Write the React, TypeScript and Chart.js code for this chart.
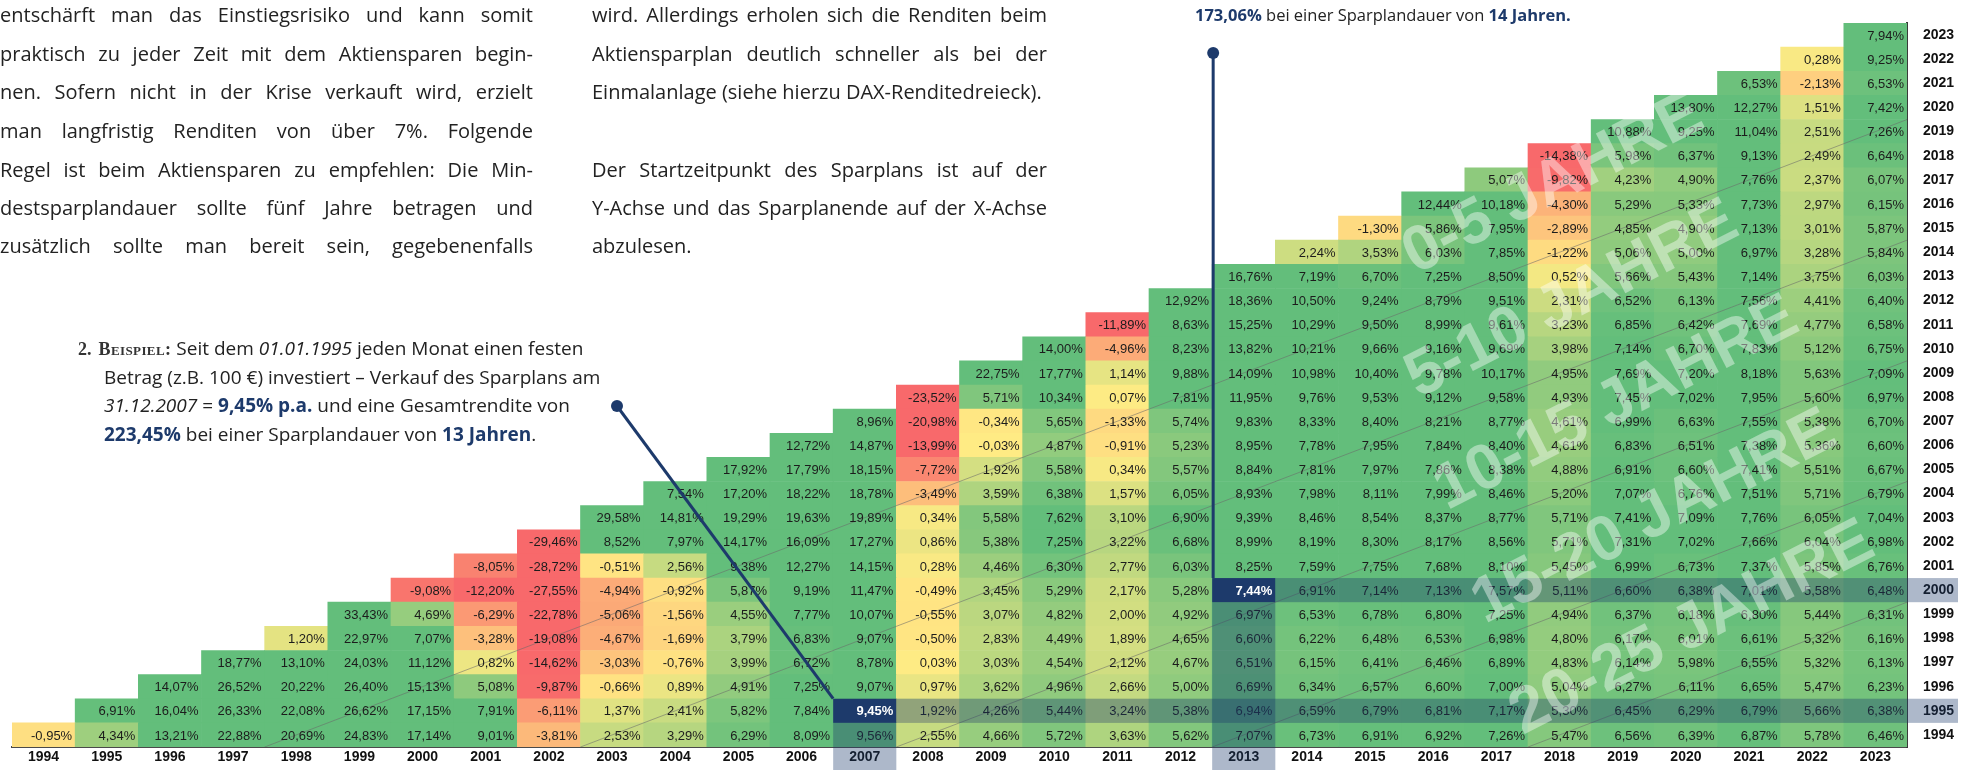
import React, { useEffect, useRef } from "react";
import { Chart, registerables } from "chart.js";

Chart.register(...registerables);

// ---------- DATA ----------
const START_YEARS = [1994, 1995, 1996, 1997, 1998, 1999, 2000, 2001, 2002, 2003, 2004, 2005, 2006, 2007, 2008, 2009, 2010, 2011, 2012, 2013, 2014, 2015, 2016, 2017, 2018, 2019, 2020, 2021, 2022, 2023];
const END_YEARS = [1994, 1995, 1996, 1997, 1998, 1999, 2000, 2001, 2002, 2003, 2004, 2005, 2006, 2007, 2008, 2009, 2010, 2011, 2012, 2013, 2014, 2015, 2016, 2017, 2018, 2019, 2020, 2021, 2022, 2023];
const X_TICK_LABELS = END_YEARS.map(String);
const Y_TICK_LABELS = START_YEARS.map(String);

// yearly returns (% p.a.) per end year, listed by start year from 1994 upwards
const end1994 = [-0.95];
const end1995 = [4.34, 6.91];
const end1996 = [13.21, 16.04, 14.07];
const end1997 = [22.88, 26.33, 26.52, 18.77];
const end1998 = [20.69, 22.08, 20.22, 13.10, 1.20];
const end1999 = [24.83, 26.62, 26.40, 24.03, 22.97, 33.43];
const end2000 = [17.14, 17.15, 15.13, 11.12, 7.07, 4.69, -9.08];
const end2001 = [9.01, 7.91, 5.08, 0.82, -3.28, -6.29, -12.20, -8.05];
const end2002 = [-3.81, -6.11, -9.87, -14.62, -19.08, -22.78, -27.55, -28.72, -29.46];
const end2003 = [2.53, 1.37, -0.66, -3.03, -4.67, -5.06, -4.94, -0.51, 8.52, 29.58];
const end2004 = [3.29, 2.41, 0.89, -0.76, -1.69, -1.56, -0.92, 2.56, 7.97, 14.81, 7.54];
const end2005 = [6.29, 5.82, 4.91, 3.99, 3.79, 4.55, 5.87, 9.38, 14.17, 19.29, 17.20, 17.92];
const end2006 = [8.09, 7.84, 7.25, 6.72, 6.83, 7.77, 9.19, 12.27, 16.09, 19.63, 18.22, 17.79, 12.72];
const end2007 = [9.56, 9.45, 9.07, 8.78, 9.07, 10.07, 11.47, 14.15, 17.27, 19.89, 18.78, 18.15, 14.87, 8.96];
const end2008 = [2.55, 1.92, 0.97, 0.03, -0.50, -0.55, -0.49, 0.28, 0.86, 0.34, -3.49, -7.72, -13.99, -20.98, -23.52];
const end2009 = [4.66, 4.26, 3.62, 3.03, 2.83, 3.07, 3.45, 4.46, 5.38, 5.58, 3.59, 1.92, -0.03, -0.34, 5.71, 22.75];
const end2010 = [5.72, 5.44, 4.96, 4.54, 4.49, 4.82, 5.29, 6.30, 7.25, 7.62, 6.38, 5.58, 4.87, 5.65, 10.34, 17.77, 14.00];
const end2011 = [3.63, 3.24, 2.66, 2.12, 1.89, 2.00, 2.17, 2.77, 3.22, 3.10, 1.57, 0.34, -0.91, -1.33, 0.07, 1.14, -4.96, -11.89];
const end2012 = [5.62, 5.38, 5.00, 4.67, 4.65, 4.92, 5.28, 6.03, 6.68, 6.90, 6.05, 5.57, 5.23, 5.74, 7.81, 9.88, 8.23, 8.63, 12.92];
const end2013 = [7.07, 6.94, 6.69, 6.51, 6.60, 6.97, 7.44, 8.25, 8.99, 9.39, 8.93, 8.84, 8.95, 9.83, 11.95, 14.09, 13.82, 15.25, 18.36, 16.76];
const end2014 = [6.73, 6.59, 6.34, 6.15, 6.22, 6.53, 6.91, 7.59, 8.19, 8.46, 7.98, 7.81, 7.78, 8.33, 9.76, 10.98, 10.21, 10.29, 10.50, 7.19, 2.24];
const end2015 = [6.91, 6.79, 6.57, 6.41, 6.48, 6.78, 7.14, 7.75, 8.30, 8.54, 8.11, 7.97, 7.95, 8.40, 9.53, 10.40, 9.66, 9.50, 9.24, 6.70, 3.53, -1.30];
const end2016 = [6.92, 6.81, 6.60, 6.46, 6.53, 6.80, 7.13, 7.68, 8.17, 8.37, 7.99, 7.86, 7.84, 8.21, 9.12, 9.78, 9.16, 8.99, 8.79, 7.25, 6.03, 5.86, 12.44];
const end2017 = [7.26, 7.17, 7.00, 6.89, 6.98, 7.25, 7.57, 8.10, 8.56, 8.77, 8.46, 8.38, 8.40, 8.77, 9.58, 10.17, 9.69, 9.61, 9.51, 8.50, 7.85, 7.95, 10.18, 5.07];
const end2018 = [5.47, 5.30, 5.04, 4.83, 4.80, 4.94, 5.11, 5.45, 5.71, 5.71, 5.20, 4.88, 4.61, 4.61, 4.93, 4.95, 3.98, 3.23, 2.31, 0.52, -1.22, -2.89, -4.30, -9.82, -14.38];
const end2019 = [6.56, 6.45, 6.27, 6.14, 6.17, 6.37, 6.60, 6.99, 7.31, 7.41, 7.07, 6.91, 6.83, 6.99, 7.45, 7.69, 7.14, 6.85, 6.52, 5.66, 5.06, 4.85, 5.29, 4.23, 5.98, 10.88];
const end2020 = [6.39, 6.29, 6.11, 5.98, 6.01, 6.18, 6.38, 6.73, 7.02, 7.09, 6.76, 6.60, 6.51, 6.63, 7.02, 7.20, 6.70, 6.42, 6.13, 5.43, 5.00, 4.90, 5.33, 4.90, 6.37, 9.25, 13.80];
const end2021 = [6.87, 6.79, 6.65, 6.55, 6.61, 6.80, 7.01, 7.37, 7.66, 7.76, 7.51, 7.41, 7.38, 7.55, 7.95, 8.18, 7.83, 7.69, 7.56, 7.14, 6.97, 7.13, 7.73, 7.76, 9.13, 11.04, 12.27, 6.53];
const end2022 = [5.78, 5.66, 5.47, 5.32, 5.32, 5.44, 5.58, 5.85, 6.04, 6.05, 5.71, 5.51, 5.36, 5.38, 5.60, 5.63, 5.12, 4.77, 4.41, 3.75, 3.28, 3.01, 2.97, 2.37, 2.49, 2.51, 1.51, -2.13, 0.28];
const end2023 = [6.46, 6.38, 6.23, 6.13, 6.16, 6.31, 6.48, 6.76, 6.98, 7.04, 6.79, 6.67, 6.60, 6.70, 6.97, 7.09, 6.75, 6.58, 6.40, 6.03, 5.84, 5.87, 6.15, 6.07, 6.64, 7.26, 7.42, 6.53, 9.25, 7.94];

const RETURNS_BY_END = [end1994, end1995, end1996, end1997, end1998, end1999, end2000, end2001, end2002, end2003, end2004, end2005, end2006, end2007, end2008, end2009, end2010, end2011, end2012, end2013, end2014, end2015, end2016, end2017, end2018, end2019, end2020, end2021, end2022, end2023];

// highlighted examples (start year, end year)
const EXAMPLE_STARTS = [1995, 2000];
const EXAMPLE_ENDS = [2007, 2013];

// duration boundaries (years) drawn as thin diagonals and watermark labels
const DIAGONAL_DURATIONS = [5, 10, 15, 20, 25];
const WATERMARK_TEXTS = ["0-5 JAHRE", "5-10 JAHRE", "10-15 JAHRE", "15-20 JAHRE", "20-25 JAHRE"];

// ---------- LAYOUT / STYLE ----------
const W = 1971;
const H = 770;
const NAVY = "#1d3a6b";
const FONT_CELL = '13px "Liberation Sans", Arial, sans-serif';
const WATERMARK_POS = [
  { c: 24.4, r: 23.3 },
  { c: 24.7, r: 18.5 },
  { c: 25.4, r: 14.2 },
  { c: 26.0, r: 9.5 },
  { c: 26.6, r: 4.9 },
];
const WATERMARK_ANGLE = -27;
const DOT_A = { x: 617, y: 406 };
const DOT_B_Y = 53;

function valueAt(ci: number, ri: number): number | null {
  const col = RETURNS_BY_END[ci];
  if (!col || ri >= col.length) return null;
  return col[ri];
}

function mix(a: number[], b: number[], t: number) {
  const c = a.map((v, i) => Math.round(v + (b[i] - v) * t));
  return `rgb(${c[0]},${c[1]},${c[2]})`;
}

function cellColor(v: number) {
  const red = [248, 105, 107];
  const yellow = [255, 235, 132];
  const green = [99, 190, 123];
  if (v <= 0) {
    const t = Math.max(0, Math.min(1, (v + 10) / 10));
    return mix(red, yellow, t);
  }
  const t = Math.max(0, Math.min(1, v / 7));
  return mix(yellow, green, t);
}

const fmt = (v: number) => v.toFixed(2).replace(".", ",") + "%";

function isExample(ci: number, ri: number) {
  for (let k = 0; k < EXAMPLE_STARTS.length; k++) {
    if (EXAMPLE_STARTS[k] === START_YEARS[ri] && EXAMPLE_ENDS[k] === END_YEARS[ci]) return true;
  }
  return false;
}

const heatPlugin = {
  id: "heatDecor",
  afterDatasetsDraw(chart: any) {
    const ctx = chart.ctx as CanvasRenderingContext2D;
    const xs = chart.scales.x;
    const ys = chart.scales.y;
    const colW = xs.getPixelForValue(1) - xs.getPixelForValue(0);
    const xEdge = (f: number) => xs.getPixelForValue(0) - colW / 2 + f * colW;
    const yEdge = (g: number) => ys.getPixelForValue(START_YEARS[0] - 0.5 + g);
    const n = END_YEARS.length;

    // diagonal duration lines
    ctx.save();
    ctx.beginPath();
    ctx.rect(chart.chartArea.left, chart.chartArea.top, chart.chartArea.right - chart.chartArea.left, chart.chartArea.bottom - chart.chartArea.top);
    ctx.clip();
    ctx.strokeStyle = "rgba(105,105,105,0.55)";
    ctx.lineWidth = 1;
    DIAGONAL_DURATIONS.forEach((d) => {
      const k = d - 1;
      ctx.beginPath();
      ctx.moveTo(xEdge(k), yEdge(0));
      ctx.lineTo(xEdge(n), yEdge(n - k));
      ctx.stroke();
    });
    ctx.restore();

    // cell labels
    ctx.save();
    ctx.font = FONT_CELL;
    ctx.textAlign = "right";
    ctx.textBaseline = "middle";
    ctx.fillStyle = "#1c1c1c";
    chart.data.datasets.forEach((_ds: any, ri: number) => {
      const meta = chart.getDatasetMeta(ri);
      meta.data.forEach((el: any, ci: number) => {
        const v = valueAt(ci, ri);
        if (v === null || isExample(ci, ri)) return;
        const p = el.getProps(["x", "y", "base", "width"], true);
        ctx.fillText(fmt(v), p.x + p.width / 2 - 3, (p.y + p.base) / 2 + 1);
      });
    });
    ctx.restore();

    // example overlays
    ctx.save();
    for (let k = 0; k < EXAMPLE_STARTS.length; k++) {
      const ri = START_YEARS.indexOf(EXAMPLE_STARTS[k]);
      const ci = END_YEARS.indexOf(EXAMPLE_ENDS[k]);
      ctx.fillStyle = "rgba(29,58,107,0.36)";
      ctx.fillRect(xEdge(ci + 1), yEdge(ri + 1), chart.width - 13 - xEdge(ci + 1), yEdge(ri) - yEdge(ri + 1));
      ctx.fillRect(xEdge(ci), yEdge(ri), colW, chart.height - yEdge(ri));
      ctx.fillStyle = NAVY;
      ctx.fillRect(xEdge(ci), yEdge(ri + 1), colW, yEdge(ri) - yEdge(ri + 1));
      ctx.fillStyle = "#ffffff";
      ctx.font = 'bold 13px "Liberation Sans", Arial, sans-serif';
      ctx.textAlign = "right";
      ctx.textBaseline = "middle";
      const v = valueAt(ci, ri) as number;
      ctx.fillText(fmt(v), xEdge(ci + 1) - 3, (yEdge(ri) + yEdge(ri + 1)) / 2 + 1);
    }
    ctx.restore();
  },
  afterDraw(chart: any) {
    const ctx = chart.ctx as CanvasRenderingContext2D;
    const xs = chart.scales.x;
    const ys = chart.scales.y;
    const colW = xs.getPixelForValue(1) - xs.getPixelForValue(0);
    const xEdge = (f: number) => xs.getPixelForValue(0) - colW / 2 + f * colW;
    const yEdge = (g: number) => ys.getPixelForValue(START_YEARS[0] - 0.5 + g);

    // watermarks
    ctx.save();
    ctx.font = 'bold 64px "Liberation Sans", Arial, sans-serif';
    ctx.fillStyle = "rgba(255,255,255,0.42)";
    ctx.textAlign = "center";
    ctx.textBaseline = "middle";
    WATERMARK_TEXTS.forEach((t, i) => {
      const p = WATERMARK_POS[i];
      ctx.save();
      ctx.translate(xEdge(p.c), yEdge(p.r));
      ctx.rotate((WATERMARK_ANGLE * Math.PI) / 180);
      ctx.fillText(t, 0, 0);
      ctx.restore();
    });
    ctx.restore();

    // leader lines
    ctx.save();
    ctx.strokeStyle = NAVY;
    ctx.fillStyle = NAVY;
    ctx.lineWidth = 3;
    {
      const ri = START_YEARS.indexOf(EXAMPLE_STARTS[0]);
      const ci = END_YEARS.indexOf(EXAMPLE_ENDS[0]);
      ctx.beginPath();
      ctx.moveTo(DOT_A.x, DOT_A.y);
      ctx.lineTo(xEdge(ci), yEdge(ri + 1));
      ctx.stroke();
      ctx.beginPath();
      ctx.arc(DOT_A.x, DOT_A.y, 6, 0, Math.PI * 2);
      ctx.fill();
    }
    {
      const ri = START_YEARS.indexOf(EXAMPLE_STARTS[1]);
      const ci = END_YEARS.indexOf(EXAMPLE_ENDS[1]);
      const x = xEdge(ci) + 1;
      ctx.beginPath();
      ctx.moveTo(x, DOT_B_Y);
      ctx.lineTo(x, yEdge(ri + 1));
      ctx.stroke();
      ctx.beginPath();
      ctx.arc(x, DOT_B_Y, 6, 0, Math.PI * 2);
      ctx.fill();
    }
    ctx.restore();
  },
};

function HeatChart() {
  const ref = useRef<HTMLCanvasElement | null>(null);
  useEffect(() => {
    if (!ref.current) return;
    const datasets = START_YEARS.map((sy, ri) => ({
      label: String(sy),
      data: END_YEARS.map((_ey, ci) => (valueAt(ci, ri) !== null ? [sy - 0.5, sy + 0.5] : null)),
      backgroundColor: END_YEARS.map((_ey, ci) => {
        const v = valueAt(ci, ri);
        return v === null ? "rgba(0,0,0,0)" : cellColor(v);
      }),
      borderWidth: 0,
      grouped: false,
      barPercentage: 1,
      categoryPercentage: 1,
    }));
    const chart = new Chart(ref.current, {
      type: "bar",
      data: { labels: X_TICK_LABELS, datasets: datasets as any },
      options: {
        animation: false,
        responsive: false,
        maintainAspectRatio: false,
        events: [],
        layout: { padding: { left: 12, top: 8, right: 0, bottom: 0 } },
        plugins: { legend: { display: false }, tooltip: { enabled: false } },
        scales: {
          x: {
            type: "category",
            offset: true,
            grid: { display: false, drawTicks: false },
            border: { display: true, color: "#4a4a4a", width: 2 },
            ticks: {
              autoSkip: false,
              maxRotation: 0,
              padding: 3,
              color: "#111111",
              font: { family: '"Liberation Sans", Arial, sans-serif', size: 14, weight: "bold", lineHeight: 1 },
            },
            afterFit: (s: any) => {
              s.height = 19;
            },
          },
          y: {
            type: "linear",
            position: "right",
            min: START_YEARS[0] - 0.5,
            max: START_YEARS[START_YEARS.length - 1] + 0.5,
            grid: { display: false, drawTicks: false },
            border: { display: true, color: "#3a3a3a", width: 2 },
            afterBuildTicks: (axis: any) => {
              axis.ticks = START_YEARS.map((v) => ({ value: v }));
            },
            ticks: {
              padding: 16,
              color: "#111111",
              font: { family: '"Liberation Sans", Arial, sans-serif', size: 14, weight: "bold", lineHeight: 1 },
              callback: (v: any) => {
                const i = START_YEARS.indexOf(Number(v));
                return i >= 0 ? Y_TICK_LABELS[i] : "";
              },
            },
            afterFit: (s: any) => {
              s.width = 64;
            },
          },
        },
      } as any,
      plugins: [heatPlugin],
    });
    return () => chart.destroy();
  }, []);
  return <canvas ref={ref} width={W} height={H} style={{ position: "absolute", left: 0, top: 0, width: W, height: H }} />;
}

const LEFT_LINES = [
  "entschärft man das Einstiegsrisiko und kann somit",
  "praktisch zu jeder Zeit mit dem Aktiensparen begin-",
  "nen. Sofern nicht in der Krise verkauft wird, erzielt",
  "man langfristig Renditen von über 7%. Folgende",
  "Regel ist beim Aktiensparen zu empfehlen: Die Min-",
  "destsparplandauer sollte fünf Jahre betragen und",
  "zusätzlich sollte man bereit sein, gegebenenfalls",
];
const RIGHT_LINES = [
  "wird. Allerdings erholen sich die Renditen beim",
  "Aktiensparplan deutlich schneller als bei der",
  "Einmalanlage (siehe hierzu DAX-Renditedreieck).",
  "",
  "Der Startzeitpunkt des Sparplans ist auf der",
  "Y-Achse und das Sparplanende auf der X-Achse",
  "abzulesen.",
];
const RIGHT_JUSTIFY = [true, true, false, false, true, true, false];
const PARA_LINE_Y = [15, 54, 92, 131, 170, 208, 246];

const bodyFont: React.CSSProperties = {
  fontFamily: '"Open Sans", "Noto Sans", sans-serif',
  fontSize: 20,
  color: "#222222",
  lineHeight: "26px",
  height: 26,
  position: "absolute",
  whiteSpace: "nowrap",
};

function JLine({ text, justify, left, width, cy }: { text: string; justify: boolean; left: number; width: number; cy: number }) {
  if (!text) return null;
  const st: React.CSSProperties = { ...bodyFont, left, top: cy - 13, width };
  if (!justify) return <div style={st}>{text}</div>;
  return (
    <div style={{ ...st, display: "flex", justifyContent: "space-between" }}>
      {text.split(" ").map((w, i) => (
        <span key={i}>{w}</span>
      ))}
    </div>
  );
}

const noteFont: React.CSSProperties = {
  fontFamily: '"Open Sans", "Noto Sans", sans-serif',
  fontSize: 19,
  color: "#222222",
  lineHeight: "24px",
  position: "absolute",
  whiteSpace: "nowrap",
};
const blue: React.CSSProperties = { color: NAVY, fontWeight: 700 };
const serifBold: React.CSSProperties = { fontFamily: '"Liberation Serif", "DejaVu Serif", serif', fontWeight: 700, color: "#333333" };
const NOTE_Y = [348, 377, 405, 434];

export default function App() {
  useEffect(() => {
    document.body.style.margin = "0";
  }, []);
  return (
    <div style={{ position: "fixed", left: 0, top: 0, width: W, height: H, background: "#ffffff", overflow: "hidden" }}>
      <HeatChart />
      {LEFT_LINES.map((t, i) => (
        <JLine key={"l" + i} text={t} justify={true} left={0} width={533} cy={PARA_LINE_Y[i]} />
      ))}
      {RIGHT_LINES.map((t, i) => (
        <JLine key={"r" + i} text={t} justify={RIGHT_JUSTIFY[i]} left={592} width={455} cy={PARA_LINE_Y[i]} />
      ))}
      <div style={{ ...noteFont, fontSize: 16.5, left: 1195, top: 3 }}>
        <span style={blue}>173,06%</span> bei einer Sparplandauer von <span style={blue}>14 Jahren.</span>
      </div>
      <div style={{ ...noteFont, left: 78, top: NOTE_Y[0] - 12 }}>
        <span style={{ ...serifBold, fontSize: 18 }}>2.</span>
        <span style={{ ...serifBold, fontSize: 18, fontVariant: "small-caps", letterSpacing: 0.4, marginLeft: 7 }}>Beispiel:</span> Seit dem <i>01.01.1995</i> jeden Monat einen festen
      </div>
      <div style={{ ...noteFont, left: 104, top: NOTE_Y[1] - 12 }}>Betrag (z.B. 100 €) investiert – Verkauf des Sparplans am</div>
      <div style={{ ...noteFont, left: 104, top: NOTE_Y[2] - 12 }}>
        <i>31.12.2007</i> = <span style={blue}>9,45% p.a.</span> und eine Gesamtrendite von
      </div>
      <div style={{ ...noteFont, left: 104, top: NOTE_Y[3] - 12 }}>
        <span style={blue}>223,45%</span> bei einer Sparplandauer von <span style={blue}>13 Jahren</span>.
      </div>
    </div>
  );
}
